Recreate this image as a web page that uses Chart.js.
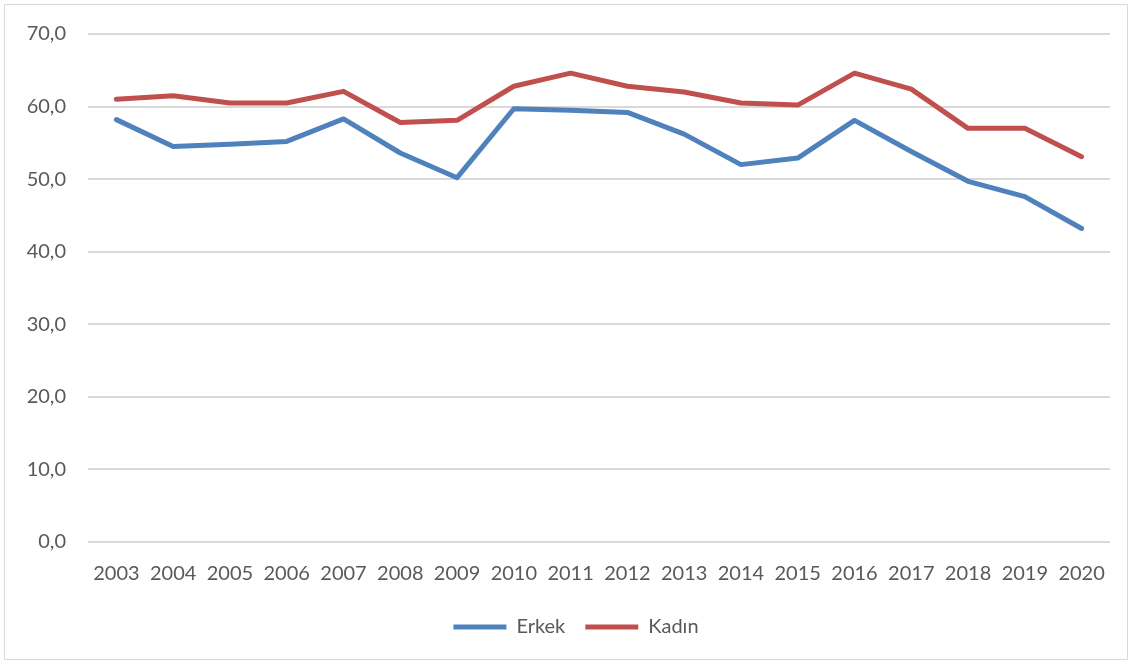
<!DOCTYPE html>
<html>
<head>
<meta charset="utf-8">
<script src="https://cdn.jsdelivr.net/npm/chart.js@4/dist/chart.umd.min.js"></script>
<style>
    body { margin: 0; background: #fff; }
    #wrap { position: relative; width: 1132px; height: 664px; }
    #frame { position: absolute; left: 4px; top: 4px; width: 1122px; height: 654px; border: 1px solid #d9d9d9; pointer-events: none; }
</style>
</head>
<body>
<div id="wrap">
    <canvas id="grafico" width="1132" height="664"></canvas>
    <div id="frame"></div>
</div>
<script>
// Dados
const anos = ['2003', '2004', '2005', '2006', '2007', '2008', '2009', '2010', '2011', '2012', '2013', '2014', '2015', '2016', '2017', '2018', '2019', '2020'];
const erkek = [58.2, 54.5, 54.8, 55.2, 58.3, 53.6, 50.2, 59.7, 59.5, 59.2, 56.2, 52.0, 52.9, 58.1, 53.8, 49.7, 47.6, 43.2];
const kadin = [61.0, 61.5, 60.5, 60.5, 62.1, 57.8, 58.1, 62.8, 64.6, 62.8, 62.0, 60.5, 60.2, 64.6, 62.4, 57.0, 57.0, 53.1];
const rotulos = ['Erkek', 'Kadın'];

function formata(v) {
    return v.toFixed(1).replace('.', ',');
}

// empurra a legenda um pouco para a direita, como no Excel
const desloca_legenda = {
    id: 'desloca_legenda',
    afterLayout: function (chart) {
        if (chart.legend) {
            chart.legend.left += 21;
            chart.legend.right += 21;
        }
    }
};

function renderiza_grafico() {
    const ctx = document.getElementById('grafico').getContext('2d');
    const fonte = { family: 'Lato', size: 20 };
    const myChart = new Chart(ctx, {
        type: 'line',
        data: {
            labels: anos,
            datasets: [{
                label: rotulos[0],
                data: erkek,
                borderColor: '#4f81bd',
                backgroundColor: '#4f81bd',
                borderWidth: 5,
                borderCapStyle: 'round',
                borderJoinStyle: 'round',
                pointRadius: 0,
                tension: 0
            }, {
                label: rotulos[1],
                data: kadin,
                borderColor: '#c0504d',
                backgroundColor: '#c0504d',
                borderWidth: 5,
                borderCapStyle: 'round',
                borderJoinStyle: 'round',
                pointRadius: 0,
                tension: 0
            }]
        },
        options: {
            responsive: false,
            animation: false,
            layout: { padding: { top: 31, right: 22, bottom: 17, left: 0 } },
            plugins: {
                tooltip: { enabled: false },
                legend: {
                    position: 'bottom',
                    labels: {
                        color: '#595959',
                        font: fonte,
                        usePointStyle: true,
                        pointStyle: 'line',
                        pointStyleWidth: 53,
                        boxHeight: 20,
                        padding: 20
                    }
                }
            },
            scales: {
                x: {
                    offset: true,
                    grid: { display: false, drawTicks: false },
                    border: { display: false },
                    ticks: { color: '#595959', font: fonte, padding: 20, maxRotation: 0, autoSkip: false },
                    afterFit: function (s) { s.height = 55; }
                },
                y: {
                    min: 0,
                    max: 70,
                    grid: { color: '#d9d9d9', lineWidth: 2, drawTicks: false },
                    border: { display: false },
                    ticks: {
                        stepSize: 10,
                        color: '#595959',
                        font: fonte,
                        padding: 22,
                        callback: function (v) { return formata(v); }
                    },
                    afterFit: function (s) { s.width = 88; }
                }
            }
        },
        plugins: [desloca_legenda]
    });
}

renderiza_grafico();
</script>
</body>
</html>
